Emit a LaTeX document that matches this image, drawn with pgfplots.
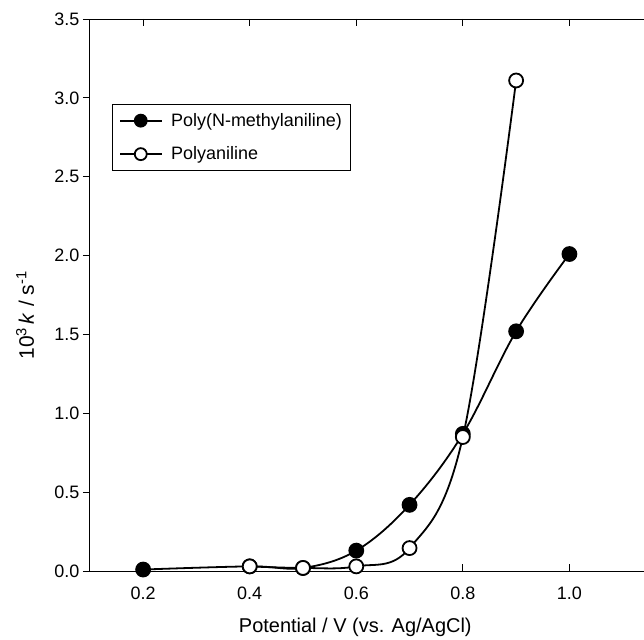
\documentclass[border=0pt]{standalone}
\usepackage{pgfplots}
\pgfplotsset{compat=1.18}
\usepackage{fontspec}
\setmainfont{Liberation Sans}

\begin{document}
\begin{tikzpicture}
\begin{axis}[
    scale only axis,
    width=555pt, height=553pt,
    xmin=0.1, xmax=1.14,
    ymin=0, ymax=3.5,
    axis x line*=box,
    axis y line*=left,
    xtick={0.2,0.4,0.6,0.8,1.0},
    ytick={0,0.5,1.0,1.5,2.0,2.5,3.0,3.5},
    xtick align=inside,
    ytick align=outside,
    major tick length=7pt,
    minor tick num=0,
    axis line style={line width=0.9pt},
    tick style={line width=0.9pt, black},
    /pgf/number format/assume math mode=true,
    /pgf/number format/.cd, fixed, fixed zerofill, precision=1, /pgfplots/.cd,
    tick label style={font=\fontsize{18}{20}\selectfont},
    xticklabel style={yshift=-12pt},
    xlabel={Potential / V (vs. Ag/AgCl)},
    ylabel={10\textsuperscript{3}\,\textit{k} / s\textsuperscript{-1}},
    xlabel style={font=\fontsize{20}{22}\selectfont, at={(axis description cs:0.479,-0.101)}, anchor=center},
    ylabel style={font=\fontsize{21}{23}\selectfont, at={(axis description cs:-0.117,0.463)}, anchor=center},
    legend style={at={(0.04,0.846)}, anchor=north west, draw=black, line width=0.8pt,
        font=\fontsize{18}{20}\selectfont, inner xsep=7pt, inner ysep=7pt,
        row sep=15pt, column sep=7pt},
    legend cell align=left,
    legend image code/.code={
        \draw[mark repeat=2, mark phase=2, mark size=6pt] plot coordinates {(0cm,0cm) (0.72cm,0cm) (1.44cm,0cm)};
    },
]
\addplot[black, line width=1.8pt, smooth, tension=0.6,
    mark=*, mark size=7pt, mark options={fill=black, solid}]
    coordinates {
    (0.2, 0.01) (0.4, 0.03) (0.5, 0.02) (0.6, 0.13)
    (0.7, 0.42) (0.8, 0.87) (0.9, 1.52) (1.0, 2.01)
};
\addlegendentry{Poly(N-methylaniline)}
\addplot[black, line width=1.8pt, smooth, tension=0.6,
    mark=*, mark size=7pt, mark options={fill=white, solid}]
    coordinates {
    (0.4, 0.03) (0.5, 0.02) (0.6, 0.03)
    (0.7, 0.146) (0.8, 0.85) (0.9, 3.11)
};
\addlegendentry{Polyaniline}
\end{axis}
% fix the page to the reference's frame: axis box 555x553, room left/below/above
\pgfresetboundingbox
\path[use as bounding box] (-90pt,-68pt) rectangle (555pt,572pt);
\end{tikzpicture}
\end{document}
